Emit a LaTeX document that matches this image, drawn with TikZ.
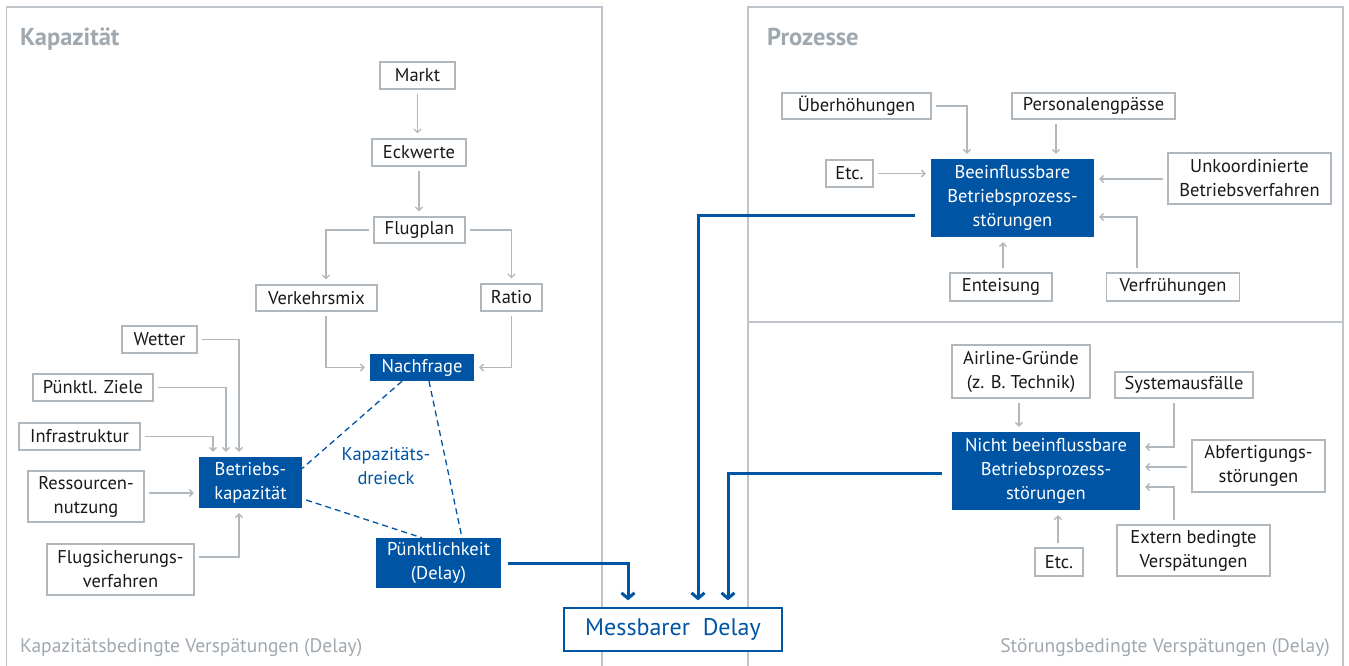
\documentclass[tikz,border=0pt]{standalone}
\usepackage{fontspec}
\setmainfont{PT Sans}
\usetikzlibrary{arrows.meta,calc}
\definecolor{dblue}{RGB}{0,84,164}
\definecolor{gline}{RGB}{176,184,190}
\definecolor{gframe}{RGB}{190,196,201}
\definecolor{gtitle}{RGB}{160,168,175}
\definecolor{gtext}{RGB}{25,25,25}
\begin{document}
\begin{tikzpicture}[x=1pt,y=-1pt,
  boxfont/.style={font=\fontsize{18.5}{24}\selectfont},
  gbox/.style={boxfont,draw=gline,line width=1.3pt,fill=white,text=gtext,inner sep=0pt,align=center},
  bbox/.style={boxfont,fill=dblue,text=white,inner sep=0pt,align=center},
  garr/.style={draw=gline,line width=1.3pt,-{Straight Barb[length=3.5pt,width=7pt]},shorten <=4pt,shorten >=5pt},
  barr/.style={draw=dblue,line width=3pt,-{Straight Barb[length=5.5pt,width=13pt]},shorten >=7pt},
  dline/.style={draw=dblue,line width=1.3pt,dash pattern=on 6pt off 4pt},
  frame/.style={draw=gframe,line width=1.3pt},
  title/.style={font=\bfseries\fontsize{24.5}{28}\selectfont,text=gtitle,anchor=base west,inner sep=0pt},
  foot/.style={font=\fontsize{19.5}{22}\selectfont,text=gtitle,inner sep=0pt}
]
\useasboundingbox (0,0) rectangle (1349,666);
% frames
\draw[frame] (6.5,666) -- (6.5,7) -- (602,7) -- (602,666);
\draw[frame] (748,666) -- (748,7) -- (1343,7) -- (1343,666);
\draw[frame] (748,322) -- (1343,322);
\node[title] (tkap) at (20,46) {Kapazität};
\node[title] (tproz) at (767,46) {Prozesse};
\node[foot,anchor=base west] (fkap) at (20,652) {Kapazitätsbedingte Verspätungen (Delay)};
\node[foot,anchor=base east] (fstoer) at (1330,652) {Störungsbedingte Verspätungen (Delay)};

% left panel
\node[gbox,minimum width=75,minimum height=27] (markt) at (417.5,75.5) {Markt};
\node[gbox,minimum width=94,minimum height=27] (eckwerte) at (419,152.5) {Eckwerte};
\node[gbox,minimum width=91,minimum height=26] (flugplan) at (419.5,230) {Flugplan};
\node[gbox,minimum width=121,minimum height=26] (verkehrsmix) at (316.5,298) {Verkehrsmix};
\node[gbox,minimum width=61,minimum height=27] (ratio) at (511.5,297.5) {Ratio};
\node[bbox,minimum width=104,minimum height=27] (nachfrage) at (422,367.5) {Nachfrage};
\node[gbox,minimum width=75,minimum height=27] (wetter) at (159.5,339.5) {Wetter};
\node[gbox,minimum width=120,minimum height=27] (puenktl) at (93,387.5) {Pünktl. Ziele};
\node[gbox,minimum width=121,minimum height=27] (infra) at (79.5,436.5) {Infrastruktur};
\node[gbox,minimum width=116,minimum height=51] (ressourcen) at (86,496.5) {Ressourcen-\\nutzung};
\node[gbox,minimum width=147,minimum height=51] (flugsich) at (120.5,569.5) {Flugsicherungs-\\verfahren};
\node[bbox,minimum width=103,minimum height=51] (betriebskap) at (250.5,482.5) {Betriebs-\\kapazität};
\node[bbox,minimum width=125,minimum height=50] (puenktlichkeit) at (438.5,563) {Pünktlichkeit\\(Delay)};
\node[boxfont,text=dblue,align=center,inner sep=0pt] (dreieck) at (386,466) {Kapazitäts-\\dreieck};
\node[draw=dblue,line width=1.3pt,fill=white,text=dblue,font=\fontsize{24}{27}\selectfont,minimum width=218,minimum height=43,inner sep=0pt] (messbar) at (673,629.5) {Messbarer\ \ Delay};

% right top
\node[gbox,minimum width=149,minimum height=26] (ueber) at (856.5,106) {Überhöhungen};
\node[gbox,minimum width=163,minimum height=26] (personal) at (1093.5,106) {Personalengpässe};
\node[gbox,minimum width=47,minimum height=27] (etc1) at (849.5,173.5) {Etc.};
\node[bbox,minimum width=163,minimum height=78] (beeinfl) at (1012.5,198) {Beeinflussbare\\Betriebsprozess-\\störungen};
\node[gbox,minimum width=163,minimum height=51] (unkoord) at (1249.5,178.5) {Unkoordinierte\\Betriebsverfahren};
\node[gbox,minimum width=102,minimum height=28] (enteisung) at (1001,287) {Enteisung};
\node[gbox,minimum width=133,minimum height=28] (verfrueh) at (1173,287) {Verfrühungen};

% right bottom
\node[gbox,minimum width=138,minimum height=53] (airline) at (1021,371.5) {Airline-Gründe\\(z. B. Technik)};
\node[gbox,minimum width=138,minimum height=26] (system) at (1184,385) {Systemausfälle};
\node[bbox,minimum width=188,minimum height=78] (nicht) at (1046,471) {Nicht beeinflussbare\\Betriebsprozess-\\störungen};
\node[gbox,minimum width=133,minimum height=52] (abfert) at (1258.5,466) {Abfertigungs-\\störungen};
\node[gbox,minimum width=153,minimum height=51] (extern) at (1193.5,550.5) {Extern bedingte\\Verspätungen};
\node[gbox,minimum width=48,minimum height=28] (etc2) at (1059,562) {Etc.};

% helper coordinates
\coordinate (xvm) at (326,0);
\coordinate (xw) at (239,0);
\coordinate (xp) at (226,0);
\coordinate (xi) at (213,0);
\coordinate (yr) at (0,493);
\coordinate (yfs) at (0,557);
\coordinate (xd1) at (628,0);
\coordinate (xd2) at (698,0);
\coordinate (xd3) at (728,0);
\coordinate (yb1) at (0,215);
\coordinate (yn1) at (0,473);
\coordinate (xue) at (967,0);
\coordinate (ype) at (0,179);
\coordinate (yve) at (0,217);
\coordinate (xve) at (1137,0);
\coordinate (xsy) at (1174,0);
\coordinate (ysy) at (0,447);
\coordinate (yab) at (0,467);
\coordinate (yex) at (0,487);

% left connectors
\draw[garr] (markt.south) -- (markt.south |- eckwerte.north);
\draw[garr] (eckwerte.south) -- (eckwerte.south |- flugplan.north);
\draw[garr] (flugplan.west) -| (verkehrsmix.north -| xvm);
\draw[garr] (flugplan.east) -| (ratio.north);
\draw[garr] (verkehrsmix.south -| xvm) |- (nachfrage.west);
\draw[garr] (ratio.south) |- (nachfrage.east);
\draw[garr] (wetter.east) -| (betriebskap.north -| xw);
\draw[garr] (puenktl.east) -| (betriebskap.north -| xp);
\draw[garr] (infra.east) -| (betriebskap.north -| xi);
\draw[garr] (ressourcen.east |- yr) -- (betriebskap.west |- yr);
\draw[garr] (flugsich.east |- yfs) -| (betriebskap.south -| xw);
\draw[dline] ($(nachfrage.south)+(-20,0)$) -- ($(betriebskap.east)+(0,-14)$);
\draw[dline] ($(betriebskap.east)+(4,17.5)$) -- ($(puenktlichkeit.north)+(-16.5,0)$);
\draw[dline] ($(nachfrage.south)+(7,0)$) -- ($(puenktlichkeit.north)+(23.5,0)$);

% blue connectors
\draw[barr,shorten <=7pt] (puenktlichkeit.east) -| (messbar.north -| xd1);
\draw[barr,shorten <=16pt] (beeinfl.west |- yb1) -| (messbar.north -| xd2);
\draw[barr,shorten <=10pt] (nicht.west |- yn1) -| (messbar.north -| xd3);

% right top connectors
\draw[garr] (ueber.east) -| (beeinfl.north -| xue);
\draw[garr] (personal.south -| 1056,0) -- (beeinfl.north -| 1056,0);
\draw[garr] (etc1.east) -- (beeinfl.west |- etc1.east);
\draw[garr] (unkoord.west |- ype) -- (beeinfl.east |- ype);
\draw[garr] (verfrueh.north -| xve) |- (beeinfl.east |- yve);
\draw[garr] (enteisung.north -| 1003,0) -- (beeinfl.south -| 1003,0);

% right bottom connectors
\draw[garr] (airline.south -| 1019,0) -- (nicht.north -| 1019,0);
\draw[garr] (system.south -| xsy) |- (nicht.east |- ysy);
\draw[garr] (abfert.west |- yab) -- (nicht.east |- yab);
\draw[garr] (extern.north -| xsy) |- (nicht.east |- yex);
\draw[garr] (etc2.north -| 1058,0) -- (nicht.south -| 1058,0);
\end{tikzpicture}
\end{document}
